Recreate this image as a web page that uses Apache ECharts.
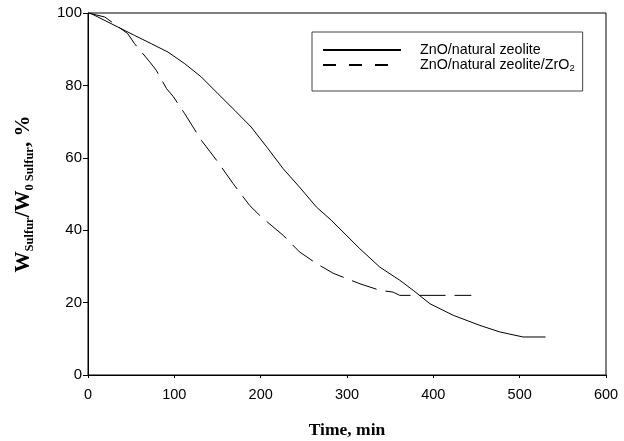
<!DOCTYPE html>
<html>
<head>
<meta charset="utf-8">
<script src="https://cdn.jsdelivr.net/npm/echarts@6/dist/echarts.min.js"></script>
<style>
  html, body { margin: 0; padding: 0; background: #fff; }
  #main { width: 624px; height: 441px; }
</style>
</head>
<body>
<div id="main"></div>
<script>
// ZnO/natural zeolite
var timeA = [0, 3.9, 34.8, 54, 73.5, 92.7, 112, 131.4, 150.6, 170, 189, 208.6, 226, 245, 264.6, 282, 314.8, 338, 361, 376.6, 396, 423, 453.9, 477, 504, 530];
var valA  = [100, 99.8, 96.1, 93.8, 91.5, 89.2, 86.0, 82.3, 77.7, 73.1, 68.5, 62.5, 57.0, 51.9, 46.4, 42.7, 34.9, 29.8, 26.2, 23.4, 19.7, 16.5, 13.7, 11.9, 10.5, 10.5];
// ZnO/natural zeolite/ZrO2
var timeB = [0, 19.4, 46, 54, 71.5, 79, 91, 98.5, 112, 118, 131.4, 149, 168, 187, 201, 226, 245, 264.6, 284, 315, 338, 353.4, 361, 444];
var valB  = [100, 98.9, 94.3, 91.5, 86.5, 84.2, 79.1, 77.0, 72.2, 69.9, 64.8, 59.3, 52.9, 46.9, 43.6, 38.6, 34.0, 30.8, 28.1, 25.2, 23.4, 22.9, 22.0, 22.0];
var seriesNames = ['ZnO/natural zeolite', 'ZnO/natural zeolite/ZrO2'];

function pairs(xs, ys) {
    var out = [];
    for (var i = 0; i < xs.length; i++) out.push([xs[i], ys[i]]);
    return out;
}

var myChart = echarts.init(document.getElementById('main'));
var option = {
    backgroundColor: '#fff',
    animation: false,
    grid: {
        left: 88, right: 18, top: 13, bottom: 66,
        outerBoundsMode: 'none',
        show: true, borderColor: '#000', borderWidth: 1
    },
    legend: {
        orient: 'vertical',
        left: 312, top: 32,
        padding: [11, 8, 18, 10],
        itemGap: 1,
        itemWidth: 78,
        itemHeight: 14,
        borderColor: '#444',
        borderWidth: 1,
        itemStyle: { opacity: 0 },
        data: [
            { name: seriesNames[0] },
            { name: seriesNames[1], lineStyle: { type: [13, 13] } }
        ],
        formatter: function (name) {
            if (name === seriesNames[1]) return '{a|ZnO/natural zeolite/ZrO}{s|2}';
            return '{a|' + name + '}';
        },
        textStyle: {
            padding: [0, 0, 0, 14],
            rich: {
                a: { fontFamily: 'Liberation Sans', fontSize: 14.3, color: '#000', lineHeight: 16 },
                s: { fontFamily: 'Liberation Sans', fontSize: 9.5, color: '#000', lineHeight: 10, verticalAlign: 'bottom' }
            }
        }
    },
    xAxis: {
        type: 'value',
        min: 0, max: 600, interval: 100,
        name: 'Time, min',
        nameLocation: 'middle',
        nameGap: 46,
        nameTextStyle: { fontFamily: 'Liberation Serif', fontWeight: 'bold', fontSize: 17.5, color: '#000' },
        axisLine: { show: true, lineStyle: { color: '#000', width: 1 } },
        axisTick: { show: true, length: 3, lineStyle: { color: '#000' } },
        axisLabel: { fontFamily: 'Liberation Sans', fontSize: 14.5, color: '#000', margin: 12 },
        splitLine: { show: false }
    },
    yAxis: {
        type: 'value',
        min: 0, max: 100, interval: 20,
        name: '{b|W}{s|Sulfur}{b|/W}{s|0 Sulfur}{b|, %}',
        nameLocation: 'middle',
        nameGap: 52,
        nameTextStyle: {
            rich: {
                b: { fontFamily: 'Liberation Serif', fontWeight: 'bold', fontSize: 21, color: '#000', lineHeight: 24 },
                s: { fontFamily: 'Liberation Serif', fontWeight: 'bold', fontSize: 12.5, color: '#000', lineHeight: 15, verticalAlign: 'bottom' }
            }
        },
        axisLine: { show: true, lineStyle: { color: '#000', width: 1 } },
        axisTick: { show: true, length: 5, lineStyle: { color: '#000' } },
        axisLabel: { fontFamily: 'Liberation Sans', fontSize: 15, color: '#000', margin: 6 },
        splitLine: { show: false }
    },
    series: [
        {
            name: seriesNames[0],
            type: 'line',
            data: pairs(timeA, valA),
            symbol: 'none',
            itemStyle: { color: '#000' },
            lineStyle: { color: '#000', width: 1 }
        },
        {
            name: seriesNames[1],
            type: 'line',
            data: pairs(timeB, valB),
            symbol: 'none',
            itemStyle: { color: '#000' },
            lineStyle: { color: '#000', width: 1, type: [26, 9] }
        }
    ]
};
myChart.setOption(option);
</script>
</body>
</html>
